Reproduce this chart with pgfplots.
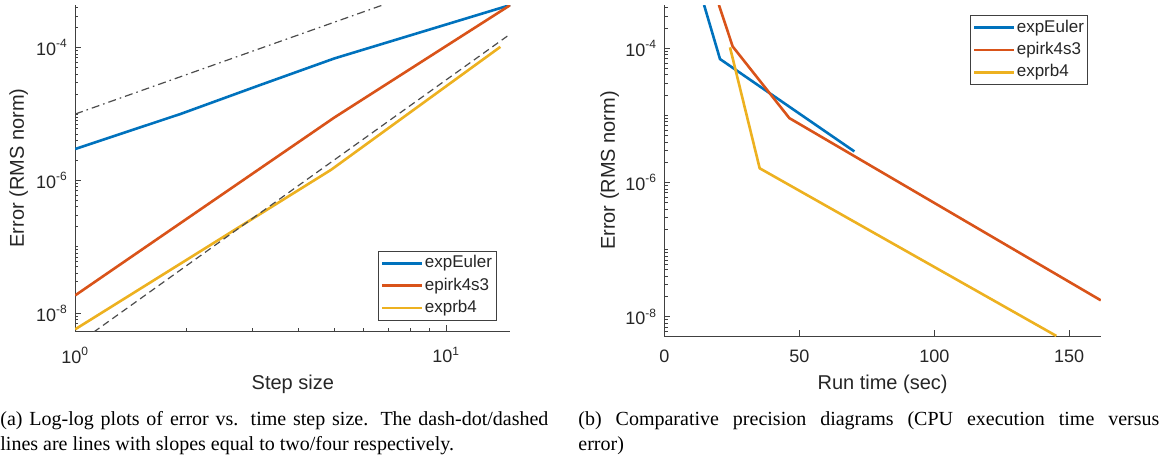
\documentclass[border=0pt]{standalone}
\usepackage{fontspec}
\setmainfont{Liberation Serif}
\setsansfont{Liberation Sans}
\usepackage{pgfplots}
\pgfplotsset{compat=1.18}
\definecolor{mblue}{rgb}{0,0.447,0.741}
\definecolor{mred}{rgb}{0.85,0.325,0.098}
\definecolor{myellow}{rgb}{0.929,0.694,0.125}
\definecolor{axgray}{gray}{0.25}
\begin{document}
\begin{tikzpicture}
\path[use as bounding box] (0,0) rectangle (579.5pt,-230pt);
% ---------- (a) ----------
\begin{axis}[
  scale only axis,
  axis x line*=bottom, axis y line*=left,
  axis line style={-, draw=axgray, line width=0.5pt},
  tick align=inside,
  major tick length=2.8pt, minor tick length=1.6pt,
  tick style={draw=axgray, line width=0.5pt},
  tick label style={font=\sffamily\fontsize{9}{10}\selectfont, text=black!85},
  yticklabel style={anchor=east, inner sep=0pt, xshift=-3.5pt},
  label style={font=\sffamily\fontsize{10}{12}\selectfont, text=black!85, inner sep=0pt},
  ymode=log,
  ytick={1e-8,1e-6,1e-4},
  yticklabels={10\textsuperscript{-8},10\textsuperscript{-6},10\textsuperscript{-4}},
  minor ytick={6e-9,7e-9,8e-9,9e-9,2e-8,3e-8,4e-8,5e-8,6e-8,7e-8,8e-8,9e-8,1e-7,2e-7,3e-7,4e-7,5e-7,6e-7,7e-7,8e-7,9e-7,2e-6,3e-6,4e-6,5e-6,6e-6,7e-6,8e-6,9e-6,1e-5,2e-5,3e-5,4e-5,5e-5,6e-5,7e-5,8e-5,9e-5,2e-4,3e-4,4e-4},
  legend cell align=left,
  legend image code/.code={\draw[#1] (0pt,0pt) -- (19.7pt,0pt);},
  legend style={draw=axgray, line width=0.5pt, fill=white, inner xsep=1pt, inner ysep=0.5pt, row sep=0pt,
    font=\sffamily\fontsize{8.5}{10}\selectfont, text=black!85,
    nodes={inner xsep=1pt, inner ysep=1.6pt, text height=6.2pt, text depth=1.8pt}},
  at={(37.6pt,-165.5pt)}, anchor=south west,
  width=217.6pt, height=163pt,
  xmode=log, xmin=1, xmax=14.9,
  ymin=5.37e-9, ymax=4.4e-4,
  xtick={1,10}, xticklabels={10\textsuperscript{0},10\textsuperscript{1}},
  minor xtick={2,3,4,5,6,7,8,9},
  xticklabel style={anchor=north, inner sep=0pt, yshift=-7.8pt},
  xlabel={Step size}, ylabel={Error (RMS norm)},
  xlabel style={at={(axis description cs:0.5,0)}, anchor=north, yshift=-22pt},
  ylabel style={at={(axis description cs:-0.1298,0.5)}, anchor=center},
  legend style={at={(axis description cs:0.9681,0.0316)}, anchor=south east},
]
\addplot[line width=1.3pt, mblue] coordinates {(1,2.97e-6) (1.93,1.01e-5) (3.13,2.7e-5) (5,6.9e-5) (14.9,4.4e-4)};
\addplot[line width=1.3pt, mred] coordinates {(1,1.85e-8) (5,8.9e-6) (10,1.06e-4) (14.9,4.4e-4)};
\addplot[line width=1.3pt, myellow] coordinates {(1,5.7e-9) (4.9,1.45e-6) (14.0,1.03e-4)};
\addplot[line width=0.6pt, black!70, dash pattern=on 4pt off 2pt on 0.8pt off 2pt, forget plot] coordinates {(1,1.0e-5) (6.9,4.6e-4)};
\addplot[line width=0.6pt, black!70, dash pattern=on 3.5pt off 2.2pt, forget plot] coordinates {(1,3.27e-9) (14.68,1.52e-4)};
\legend{expEuler,epirk4s3,exprb4}
\end{axis}
% ---------- (b) ----------
\begin{axis}[
  scale only axis,
  axis x line*=bottom, axis y line*=left,
  axis line style={-, draw=axgray, line width=0.5pt},
  tick align=inside,
  major tick length=2.8pt, minor tick length=1.6pt,
  tick style={draw=axgray, line width=0.5pt},
  tick label style={font=\sffamily\fontsize{9}{10}\selectfont, text=black!85},
  yticklabel style={anchor=east, inner sep=0pt, xshift=-3.5pt},
  label style={font=\sffamily\fontsize{10}{12}\selectfont, text=black!85, inner sep=0pt},
  ymode=log,
  ytick={1e-8,1e-6,1e-4},
  yticklabels={10\textsuperscript{-8},10\textsuperscript{-6},10\textsuperscript{-4}},
  minor ytick={6e-9,7e-9,8e-9,9e-9,2e-8,3e-8,4e-8,5e-8,6e-8,7e-8,8e-8,9e-8,1e-7,2e-7,3e-7,4e-7,5e-7,6e-7,7e-7,8e-7,9e-7,2e-6,3e-6,4e-6,5e-6,6e-6,7e-6,8e-6,9e-6,1e-5,2e-5,3e-5,4e-5,5e-5,6e-5,7e-5,8e-5,9e-5,2e-4,3e-4,4e-4},
  legend cell align=left,
  legend image code/.code={\draw[#1] (0pt,0pt) -- (19.7pt,0pt);},
  legend style={draw=axgray, line width=0.5pt, fill=white, inner xsep=1pt, inner ysep=0.5pt, row sep=0pt,
    font=\sffamily\fontsize{8.5}{10}\selectfont, text=black!85,
    nodes={inner xsep=1pt, inner ysep=1.6pt, text height=6.2pt, text depth=1.8pt}},
  at={(332.2pt,-168pt)}, anchor=south west,
  width=218.2pt, height=165.5pt,
  xmin=0, xmax=161.7,
  ymin=5.18e-9, ymax=4.4e-4,
  xtick={0,50,100,150}, xticklabels={0,50,100,150},
  xticklabel style={anchor=north, inner sep=0pt, yshift=-7pt},
  xlabel={Run time (sec)}, ylabel={Error (RMS norm)},
  xlabel style={at={(axis description cs:0.5,0)}, anchor=north, yshift=-19.5pt},
  ylabel style={at={(axis description cs:-0.1256,0.5)}, anchor=center},
  legend style={at={(axis description cs:0.9716,0.9698)}, anchor=north east},
]
\addplot[line width=1.3pt, mblue] coordinates {(14.7,4.4e-4) (20.6,6.9e-5) (70.4,2.9e-6)};
\addplot[line width=1.3pt, mred] coordinates {(20.2,4.4e-4) (25.3,1.06e-4) (46.3,9.1e-6) (161.7,1.76e-8)};
\addplot[line width=1.3pt, myellow] coordinates {(24.3,1.03e-4) (35.3,1.63e-6) (145.2,5.2e-9)};
\legend{expEuler,epirk4s3,exprb4}
\end{axis}
% ---------- captions ----------
\node[anchor=base west, text width=274pt, align=justify, inner sep=0pt,
  font=\rmfamily\fontsize{10}{12.25}\selectfont] at (0pt,-212.75pt)
  {(a) Log-log plots of error vs. time step size. The dash-dot/dashed\linebreak lines are lines with slopes equal to two/four respectively.};
\node[anchor=base west, text width=290.5pt, align=justify, inner sep=0pt,
  font=\rmfamily\fontsize{10}{12.25}\selectfont] at (289pt,-212.75pt)
  {(b) Comparative precision diagrams (CPU execution time versus\linebreak error)};
\end{tikzpicture}
\end{document}
